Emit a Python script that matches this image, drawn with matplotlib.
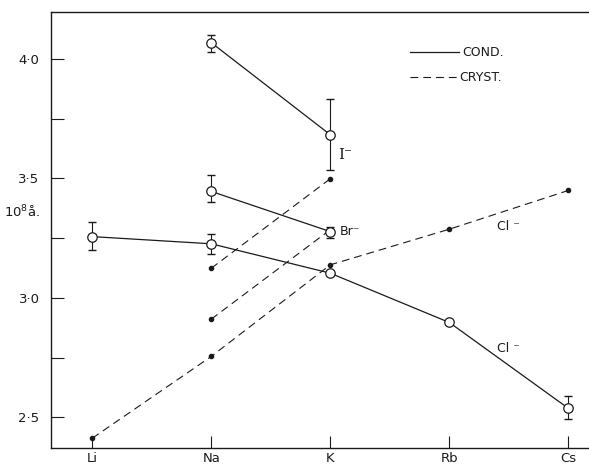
import matplotlib
matplotlib.use("Agg")
import matplotlib.pyplot as plt
from matplotlib.ticker import MultipleLocator

# cations along the x axis
cations = ["Li", "Na", "K", "Rb", "Cs"]

# conductance values (10^8 a), with error bar limits
cond_cl_x = [0, 1, 2, 3, 4]
cond_cl = [3.256, 3.226, 3.103, 2.897, 2.538]
cond_cl_lo = [3.198, 3.184, 3.103, 2.897, 2.492]
cond_cl_hi = [3.319, 3.268, 3.103, 2.897, 2.590]

cond_br_x = [1, 2]
cond_br = [3.445, 3.277]
cond_br_lo = [3.399, 3.250]
cond_br_hi = [3.512, 3.298]

cond_i_x = [1, 2]
cond_i = [4.067, 3.682]
cond_i_lo = [4.030, 3.536]
cond_i_hi = [4.100, 3.833]

# crystallographic values
cryst_cl_x = [0, 1, 2, 3, 4]
cryst_cl = [2.413, 2.755, 3.138, 3.287, 3.449]
cryst_br_x = [1, 2]
cryst_br = [2.911, 3.285]
cryst_i_x = [1, 2]
cryst_i = [3.124, 3.498]

ink = "#1a1a1a"
plt.rcParams["font.family"] = ["DejaVu Sans"]

fig = plt.figure(figsize=(5.89, 4.65), dpi=100)
ax = fig.add_axes([0.086, 0.0366, 0.914, 0.9384])

dash = (0, (7, 4.5))


def cond_series(x, y, lo, hi):
    yerr = [[v - l for v, l in zip(y, lo)], [h - v for v, h in zip(y, hi)]]
    ax.errorbar(x, y, yerr=yerr, fmt="none", ecolor=ink, elinewidth=0.8,
                capsize=3, capthick=1.0, zorder=2)
    ax.plot(x, y, color=ink, lw=0.9, marker="o", ms=6.8, mfc="white",
            mec=ink, mew=0.9, zorder=3)


def cryst_series(x, y):
    ax.plot(x, y, color=ink, lw=0.8, linestyle=dash, marker="o", ms=3,
            mfc=ink, mec=ink, zorder=2)


cryst_series(cryst_cl_x, cryst_cl)
cryst_series(cryst_br_x, cryst_br)
cryst_series(cryst_i_x, cryst_i)
cond_series(cond_cl_x, cond_cl, cond_cl_lo, cond_cl_hi)
cond_series(cond_br_x, cond_br, cond_br_lo, cond_br_hi)
cond_series(cond_i_x, cond_i, cond_i_lo, cond_i_hi)

ax.set_xlim(-0.35, 4.174)
ax.set_ylim(2.372, 4.197)

ax.set_xticks(range(len(cations)))
ax.set_xticklabels(cations, fontsize=9.5)
ax.set_yticks([2.5, 3.0, 3.5, 4.0])
ax.set_yticklabels(["2·5", "3·0", "3·5", "4·0"], fontsize=9.5)
ax.yaxis.set_minor_locator(MultipleLocator(0.25))
ax.tick_params(axis="x", direction="in", length=9, width=0.8, pad=3,
               colors=ink)
ax.tick_params(axis="y", which="both", direction="in", length=9, width=0.8,
               pad=8, colors=ink)

ax.spines["right"].set_visible(False)
for s in ["left", "top", "bottom"]:
    ax.spines[s].set_linewidth(1.0)
    ax.spines[s].set_color(ink)

# legend drawn by hand
ax.plot([2.67, 3.08], [4.028, 4.028], color=ink, lw=0.9)
ax.text(3.11, 4.028, "COND.", fontsize=9, va="center", color=ink)
ax.plot([2.67, 3.08], [3.923, 3.923], color=ink, lw=0.8, linestyle=dash)
ax.text(3.08, 3.923, "CRYST.", fontsize=9, va="center", color=ink)

# anion labels
ax.text(2.07, 3.598, "I⁻", fontsize=11, family="DejaVu Serif",
        va="center", color=ink)
ax.text(2.08, 3.277, "Br⁻", fontsize=9, va="center", color=ink)
ax.text(3.40, 3.297, "Cl ⁻", fontsize=9, va="center", color=ink)
ax.text(3.40, 2.787, "Cl ⁻", fontsize=9, va="center", color=ink)

fig.text(4 / 589, 1 - 212 / 465, "10$^{8}$å.", fontsize=9.5, va="center",
         color=ink)

fig.savefig("out.png", dpi=100)
